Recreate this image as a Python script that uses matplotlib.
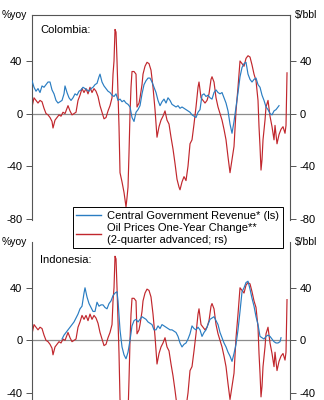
import matplotlib
matplotlib.use("Agg")
import matplotlib.pyplot as plt
from matplotlib.lines import Line2D

plt.rcParams['font.family'] = ['Liberation Sans', 'DejaVu Sans']
plt.rcParams['axes.unicode_minus'] = False

# Oil prices, one-year change, 2-quarter advanced (same series in both panels)
oil_t = [1990.0, 1990.2, 1990.4, 1990.6, 1990.8, 1991.0, 1991.2, 1991.4, 1991.6, 1991.8,
         1992.0, 1992.1, 1992.3, 1992.5, 1992.7, 1992.9, 1993.1, 1993.3, 1993.5, 1993.6,
         1993.8, 1994.0, 1994.2, 1994.4, 1994.6, 1994.8, 1995.0, 1995.2, 1995.4, 1995.6,
         1995.8, 1996.0, 1996.2, 1996.4, 1996.6, 1996.8, 1997.0, 1997.2, 1997.4, 1997.6,
         1997.8, 1998.0, 1998.1, 1998.2, 1998.3, 1998.4, 1998.5, 1998.6, 1998.7, 1998.8,
         1999.0, 1999.2, 1999.4, 1999.5, 1999.6, 1999.7, 1999.8, 1999.9, 2000.0, 2000.2,
         2000.4, 2000.5, 2000.7, 2000.8, 2001.0, 2001.1, 2001.3, 2001.5, 2001.7, 2001.9,
         2002.1, 2002.3, 2002.5, 2002.7, 2002.9, 2003.1, 2003.3, 2003.5, 2003.7, 2003.9,
         2004.1, 2004.3, 2004.5, 2004.7, 2004.8, 2005.0, 2005.2, 2005.4, 2005.6, 2005.8,
         2006.0, 2006.2, 2006.4, 2006.6, 2006.7, 2006.9, 2007.1, 2007.3, 2007.5, 2007.7,
         2007.9, 2008.0, 2008.2, 2008.4, 2008.6, 2008.8, 2009.0, 2009.2, 2009.4, 2009.6,
         2009.8, 2010.0, 2010.2, 2010.4, 2010.6, 2010.8, 2011.0, 2011.2, 2011.4, 2011.6,
         2011.8, 2012.0, 2012.2, 2012.4, 2012.6, 2012.7, 2012.8, 2012.9, 2013.0, 2013.1,
         2013.3, 2013.4, 2013.6, 2013.8, 2014.0, 2014.2, 2014.3, 2014.5, 2014.7, 2014.9,
         2015.1, 2015.3, 2015.4, 2015.5]
oil_chg = [5, 12, 10, 8, 10, 9, 4, 0, -1, -3,
           -6, -11, -5, -3, -1, -2, 1, 0, 4, 6,
           2, -1, 0, 1, 10, 14, 19, 16, 19, 15,
           20, 16, 19, 17, 13, 6, 1, -4, -3, 2,
           6, 12, 30, 40, 64, 62, 40, 15, -10, -45,
           -52, -60, -71, -64, -56, -30, 0, 20, 32, 32,
           30, 5, 8, 12, 22, 30, 36, 39, 38, 33,
           20, 3, -18, -10, -5, -2, 2, -5, -8, -18,
           -27, -38, -50, -56, -58, -52, -48, -51, -40, -23,
           -20, -8, 5, 20, 24, 12, 10, 8, 10, 15,
           26, 28, 24, 12, 5, 0, -5, -12, -20, -33,
           -45, -35, -25, 2, 20, 40, 38, 36, 42, 44,
           43, 37, 30, 25, 10, -10, -25, -43, -35, -20,
           -5, 5, 10, -2, -10, -20, -9, -23, -16, -12,
           -10, -15, -9, 31]

# Colombia: central government revenue, %yoy
col_t = [1990.0, 1990.2, 1990.4, 1990.6, 1990.8, 1991.0, 1991.2, 1991.4, 1991.6, 1991.8,
         1992.0, 1992.2, 1992.4, 1992.6, 1992.8, 1993.0, 1993.2, 1993.3, 1993.5, 1993.7,
         1993.9, 1994.1, 1994.3, 1994.5, 1994.7, 1994.9, 1995.1, 1995.3, 1995.5, 1995.7,
         1995.9, 1996.1, 1996.3, 1996.5, 1996.7, 1996.8, 1997.0, 1997.2, 1997.4, 1997.6,
         1997.8, 1998.0, 1998.2, 1998.4, 1998.6, 1998.8, 1999.0, 1999.2, 1999.4, 1999.6,
         1999.8, 2000.0, 2000.2, 2000.4, 2000.6, 2000.8, 2001.0, 2001.2, 2001.4, 2001.6,
         2001.8, 2002.0, 2002.2, 2002.4, 2002.6, 2002.8, 2003.0, 2003.2, 2003.4, 2003.6,
         2003.8, 2004.0, 2004.2, 2004.4, 2004.6, 2004.8, 2005.0, 2005.2, 2005.4, 2005.6,
         2005.8, 2006.0, 2006.2, 2006.4, 2006.6, 2006.8, 2007.0, 2007.2, 2007.4, 2007.6,
         2007.8, 2008.0, 2008.2, 2008.4, 2008.6, 2008.8, 2009.0, 2009.2, 2009.4, 2009.6,
         2009.8, 2010.0, 2010.2, 2010.4, 2010.6, 2010.8, 2011.0, 2011.2, 2011.4, 2011.6,
         2011.8, 2012.0, 2012.2, 2012.4, 2012.6, 2012.8, 2013.0, 2013.2, 2013.4, 2013.6,
         2013.8, 2014.0, 2014.2, 2014.4, 2014.6, 2014.7]
col_rev = [25, 20, 17, 19, 16, 21, 20, 22, 24, 24,
           18, 15, 10, 8, 9, 10, 15, 21, 16, 12,
           10, 12, 15, 14, 17, 18, 20, 19, 18, 17,
           19, 20, 22, 23, 28, 30, 24, 21, 19, 17,
           16, 14, 13, 15, 10, 11, 9, 10, 8, 7,
           5, -3, -6, 1, 3, 6, 15, 22, 25, 27,
           27, 24, 20, 16, 10, 6, 9, 11, 8, 12,
           10, 7, 6, 5, 6, 4, 5, 4, 3, 2,
           1, -1, -2, -3, 1, 3, 14, 15, 13, 14,
           12, 11, 16, 18, 16, 15, 16, 12, 8, 2,
           -8, -15, -6, 5, 16, 28, 35, 38, 39, 30,
           26, 24, 26, 27, 22, 20, 14, 10, 5, 3,
           0, -1, 2, 3, 5, 6]

# Indonesia: central government revenue, %yoy
ind_t = [1993.0, 1993.2, 1993.4, 1993.6, 1993.8, 1994.0, 1994.2, 1994.4, 1994.6, 1994.8,
         1995.0, 1995.2, 1995.3, 1995.5, 1995.7, 1995.9, 1996.1, 1996.3, 1996.5, 1996.7,
         1996.9, 1997.1, 1997.3, 1997.5, 1997.7, 1997.9, 1998.1, 1998.3, 1998.5, 1998.6,
         1998.8, 1999.0, 1999.2, 1999.4, 1999.6, 1999.8, 2000.0, 2000.2, 2000.4, 2000.6,
         2000.8, 2001.0, 2001.2, 2001.4, 2001.6, 2001.8, 2002.0, 2002.2, 2002.4, 2002.6,
         2002.8, 2003.0, 2003.2, 2003.4, 2003.6, 2003.8, 2004.0, 2004.2, 2004.4, 2004.6,
         2004.8, 2005.0, 2005.2, 2005.4, 2005.6, 2005.8, 2006.0, 2006.2, 2006.4, 2006.6,
         2006.8, 2007.0, 2007.2, 2007.4, 2007.6, 2007.8, 2008.0, 2008.2, 2008.4, 2008.6,
         2008.8, 2009.0, 2009.2, 2009.4, 2009.6, 2009.8, 2010.0, 2010.2, 2010.4, 2010.6,
         2010.8, 2011.0, 2011.2, 2011.4, 2011.6, 2011.8, 2012.0, 2012.2, 2012.4, 2012.6,
         2012.8, 2013.0, 2013.2, 2013.4, 2013.6, 2013.8, 2014.0, 2014.2, 2014.4, 2014.6,
         2014.8, 2014.9]
ind_rev = [1, 4, 6, 8, 10, 12, 14, 17, 20, 24,
           26, 36, 40, 33, 28, 25, 22, 22, 29, 26,
           27, 27, 25, 24, 28, 30, 34, 36, 37, 30,
           8, -5, -11, -14, -9, 0, 11, 15, 16, 14,
           16, 18, 17, 16, 14, 13, 12, 8, 8, 11,
           9, 12, 11, 10, 9, 8, 8, 7, 6, 3,
           -2, -5, -3, -2, 1, 5, 11, 9, 8, 10,
           8, 3, 6, 8, 12, 16, 17, 18, 15, 12,
           6, 2, -2, -5, -9, -12, -16, -10, -3, 8,
           22, 37, 40, 44, 45, 39, 32, 26, 18, 12,
           3, 2, 1, 3, 4, 3, 1, -1, -2, -2,
           -1, 2]

y_ticks = [40, 0, -40, -80]
rev_color = "#2a7dc2"
oil_color = "#c1272d"
spine_color = "#555555"

fig = plt.figure(figsize=(3.24, 4.0), dpi=100)
ax_top = fig.add_axes([0.0988, 0.45, 0.7963, 0.5125])
ax_bot = fig.add_axes([0.0988, -0.117, 0.7963, 0.5125])

panels = [(ax_top, col_t, col_rev, "Colombia:", 0.925),
          (ax_bot, ind_t, ind_rev, "Indonesia:", 0.912)]

for ax, t, rev, name, name_y in panels:
    ax.axhline(0, color="#8c8c8c", lw=0.9, zorder=1)
    ax.plot(oil_t, oil_chg, color=oil_color, lw=0.85, zorder=2)
    ax.plot(t, rev, color=rev_color, lw=0.85, zorder=3)
    ax.set_xlim(1990.0, 2015.8)
    ax.set_ylim(-81, 75)
    ax.set_xticks([])
    ax.set_yticks(y_ticks)
    ax.tick_params(axis="y", direction="out", length=4, width=0.7,
                   color=spine_color, labelsize=8, pad=3,
                   left=True, right=True, labelleft=True, labelright=True)
    for side in ["left", "right", "top"]:
        ax.spines[side].set_color(spine_color)
        ax.spines[side].set_linewidth(0.8)
    ax.spines["bottom"].set_visible(False)
    ax.text(0.031, name_y, name, transform=ax.transAxes, fontsize=8,
            va="center", ha="left")
    ax.text(-0.02, 1.0, "%yoy", transform=ax.transAxes, fontsize=7.5,
            va="center", ha="right")
    ax.text(1.02, 1.0, "$/bbl", transform=ax.transAxes, fontsize=7.5,
            va="center", ha="left")

ax_bot.spines["top"].set_visible(False)

handles = [Line2D([], [], color=rev_color, lw=1.0),
           Line2D([], [], color=oil_color, lw=1.0)]
labels = ["Central Government Revenue* (ls)",
          "Oil Prices One-Year Change**\n(2-quarter advanced; rs)"]
leg = fig.legend(handles, labels, loc="upper left", bbox_to_anchor=(0.225, 0.482),
                 fontsize=8, frameon=True, fancybox=False, framealpha=1,
                 edgecolor="black", borderpad=0.3, labelspacing=0.25,
                 handlelength=2.2, handletextpad=0.6, borderaxespad=0)
leg.get_frame().set_linewidth(0.7)
leg.set_zorder(10)

fig.savefig("out.png", dpi=100)
